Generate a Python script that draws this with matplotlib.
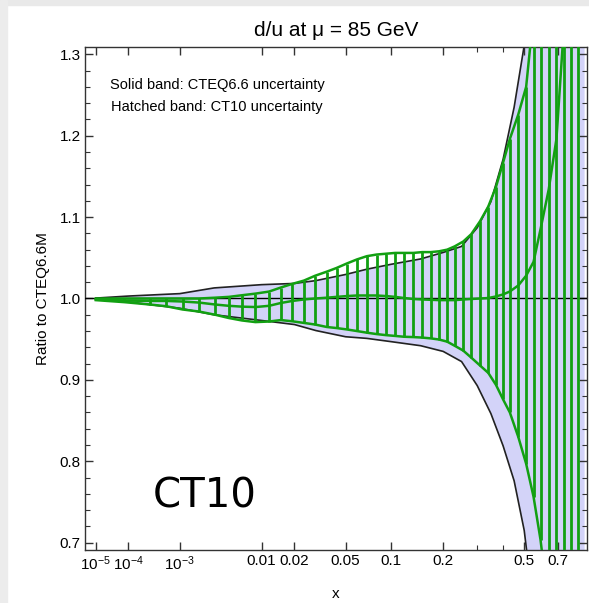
import numpy as np
import matplotlib
matplotlib.use("Agg")
import matplotlib.pyplot as plt
from matplotlib.patches import Rectangle
from matplotlib.ticker import FixedLocator, NullFormatter

plt.rcParams['font.family'] = ['Liberation Sans', 'DejaVu Sans']
plt.rcParams['mathtext.fontset'] = 'custom'
plt.rcParams['mathtext.rm'] = 'Liberation Sans'
plt.rcParams['mathtext.it'] = 'Liberation Sans:italic'

# CT10 band: sample points (hatch lines), upper / lower edge and central ratio
x_ct10 = [1e-5, 8e-5, 3e-4, 6e-4, 1.1e-3, 1.9e-3, 3.1e-3, 4.5e-3, 6.3e-3, 8.7e-3,
          0.0118, 0.0152, 0.0192, 0.024, 0.0296, 0.0364, 0.043, 0.051, 0.060, 0.070,
          0.081, 0.093, 0.106, 0.120, 0.136, 0.153, 0.171, 0.190, 0.210, 0.230,
          0.255, 0.280, 0.310, 0.340, 0.370, 0.400, 0.430, 0.470, 0.510, 0.550,
          0.590, 0.640, 0.690, 0.740, 0.790, 0.850]
ct10_up = [1.000, 1.000, 1.000, 1.000, 1.000, 1.000, 1.001, 1.002, 1.004, 1.006,
           1.0085, 1.0135, 1.018, 1.022, 1.028, 1.033, 1.0375, 1.043, 1.048, 1.052,
           1.054, 1.055, 1.056, 1.056, 1.056, 1.057, 1.057, 1.058, 1.060, 1.064,
           1.070, 1.079, 1.095, 1.113, 1.137, 1.167, 1.196, 1.226, 1.260, 1.350,
           1.50, 1.70, 1.90, 2.10, 2.30, 2.50]
ct10_lo = [0.998, 0.9955, 0.9926, 0.9905, 0.9865, 0.984, 0.980, 0.976, 0.973, 0.971,
           0.9717, 0.9735, 0.972, 0.970, 0.968, 0.965, 0.9637, 0.962, 0.960, 0.958,
           0.9563, 0.955, 0.954, 0.953, 0.9526, 0.952, 0.951, 0.9496, 0.947, 0.942,
           0.936, 0.9274, 0.9176, 0.9086, 0.894, 0.876, 0.860, 0.830, 0.797, 0.7565,
           0.7036, 0.62, 0.50, 0.40, 0.30, 0.20]
ct10_c = [0.999, 0.9975, 0.997, 0.997, 0.9963, 0.995, 0.9926, 0.991, 0.990, 0.9895,
          0.991, 0.9945, 0.997, 0.9988, 1.000, 1.001, 1.002, 1.003, 1.0037, 1.0037,
          1.0037, 1.003, 1.002, 1.0006, 0.9994, 0.9988, 0.9984, 0.998, 0.998, 0.998,
          0.9988, 0.9994, 1.000, 1.0006, 1.0025, 1.005, 1.0086, 1.016, 1.028, 1.045,
          1.085, 1.134, 1.196, 1.33, 1.50, 1.70]

# CTEQ6.6 band
x_66 = [1e-5, 1e-4, 1e-3, 3e-3, 0.01, 0.02, 0.03, 0.05, 0.07, 0.1, 0.15, 0.2,
        0.25, 0.3, 0.35, 0.4, 0.45, 0.5, 0.55, 0.6, 0.7, 0.8, 0.9]
up_66 = [1.0005, 1.003, 1.006, 1.013, 1.017, 1.0185, 1.022, 1.0295, 1.036, 1.042,
         1.0486, 1.0566, 1.064, 1.087, 1.119, 1.171, 1.235, 1.311, 1.45, 1.65,
         2.1, 2.6, 3.2]
lo_66 = [0.9988, 0.9957, 0.988, 0.980, 0.973, 0.968, 0.9606, 0.953, 0.951, 0.947,
         0.942, 0.935, 0.9225, 0.893, 0.8586, 0.819, 0.776, 0.715, 0.62, 0.5,
         0.3, 0.1, -0.1]

xticks = [1e-5, 1e-4, 1e-3, 0.01, 0.02, 0.05, 0.1, 0.2, 0.5, 0.7]
xticklabels = ['$10^{-5}$', '$10^{-4}$', '$10^{-3}$', '0.01', '0.02', '0.05',
               '0.1', '0.2', '0.5', '0.7']
xminor = [0.3, 0.4]

green = '#12a012'
lavender = '#d3d3f8'

fig = plt.figure(figsize=(5.89, 6.03), dpi=100)
fig.patches.append(Rectangle((0, 1 - 5 / 603), 1, 5 / 603, transform=fig.transFigure,
                             color='#e9e9e9', zorder=-10))
fig.patches.append(Rectangle((0, 0), 7 / 589, 1, transform=fig.transFigure,
                             color='#ececec', zorder=-10))

ax = fig.add_axes([85 / 589, 1 - 550 / 603, 502 / 589, 503 / 603])
ax.set_xscale('function', functions=(lambda v: np.power(np.clip(v, 0, None), 0.2),
                                     lambda u: np.power(np.clip(u, 0, None), 5)))

ax.fill_between(x_66, lo_66, up_66, color=lavender, lw=0, zorder=1)
ax.plot(x_66, up_66, color='#222222', lw=1.2, zorder=2)
ax.plot(x_66, lo_66, color='#222222', lw=1.2, zorder=2)

ax.axhline(1.0, color='black', lw=1.0, zorder=3)

ax.vlines(x_ct10, ct10_lo, ct10_up, colors=green, lw=2.0, zorder=4)
ax.plot(x_ct10, ct10_up, color=green, lw=1.8, zorder=4)
ax.plot(x_ct10, ct10_lo, color=green, lw=1.8, zorder=4)
ax.plot(x_ct10, ct10_c, color=green, lw=1.8, zorder=4)

ax.set_xlim(3.4e-6, 0.92)
ax.set_ylim(0.691, 1.309)

ax.xaxis.set_major_locator(FixedLocator(xticks))
ax.set_xticklabels(xticklabels)
ax.xaxis.set_minor_locator(FixedLocator(xminor))
ax.xaxis.set_minor_formatter(NullFormatter())
ax.set_yticks([0.7, 0.8, 0.9, 1.0, 1.1, 1.2, 1.3])
ax.set_yticks(np.arange(0.70, 1.31, 0.02), minor=True)
ax.tick_params(which='both', direction='in', top=True, right=True,
               labelsize=11, pad=3, colors='#333333', labelcolor='black')
ax.tick_params(which='major', length=6, width=1)
ax.tick_params(which='minor', length=3.5, width=0.8)
for s in ax.spines.values():
    s.set_color('#333333')
    s.set_linewidth(1.0)

ax.set_title('d/u at \u03bc = 85 GeV', fontsize=15, pad=8)
ax.set_xlabel('x', fontsize=11, labelpad=10)
ax.set_ylabel('Ratio to CTEQ6.6M', fontsize=11, labelpad=7)

ax.text(0.263, 0.9245, 'Solid band: CTEQ6.6 uncertainty', transform=ax.transAxes,
        ha='center', va='center', fontsize=10.5)
ax.text(0.263, 0.881, 'Hatched band: CT10 uncertainty', transform=ax.transAxes,
        ha='center', va='center', fontsize=10.5)
ax.text(0.239, 0.106, 'CT10', transform=ax.transAxes, ha='center', va='center',
        fontsize=29, family='DejaVu Sans', zorder=6)

fig.savefig('out.png', dpi=100)
